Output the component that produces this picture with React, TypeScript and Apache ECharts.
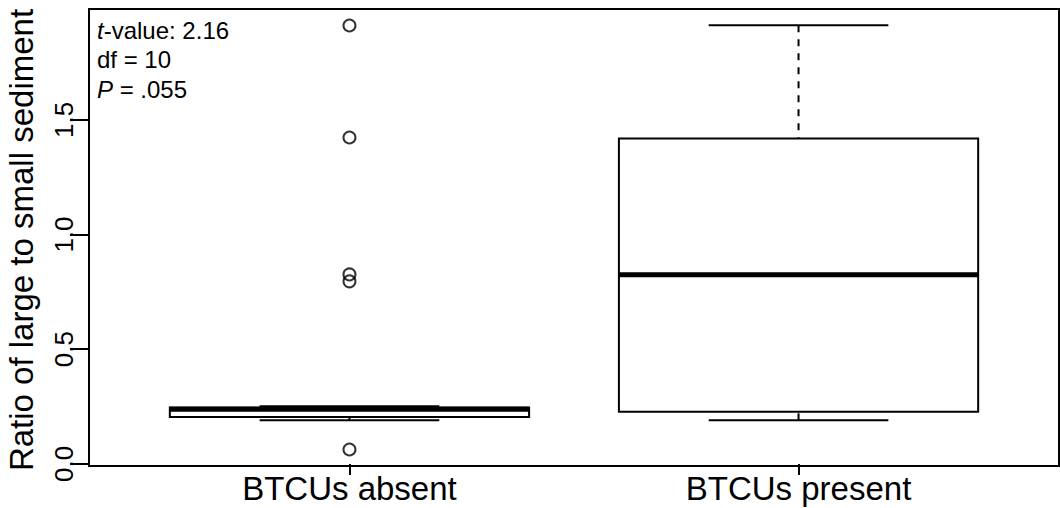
import React, { useEffect, useRef } from "react";
import * as echarts from "echarts";

const categories = ["BTCUs absent", "BTCUs present"];
const categoryX = [1, 2];
const lowerWhisker = [0.19, 0.19];
const quartile1 = [0.205, 0.228];
const medians = [0.238, 0.825];
const quartile3 = [0.246, 1.418];
const upperWhisker = [0.251, 1.912];
const outliersAbsent = [1.911, 1.423, 0.826, 0.796, 0.063];
const yTicks = [0, 0.5, 1.0, 1.5];
const statLines = ["t-value: 2.16", "df = 10", "P = .055"];

const FONT = '"Liberation Sans", Arial, Helvetica, sans-serif';

export default function App() {
  const ref = useRef<HTMLDivElement>(null);
  useEffect(() => {
    if (!ref.current) return;
    const chart = echarts.init(ref.current, null, { renderer: "svg" });
    const boxData = categoryX.map((x, i) => [
      x,
      lowerWhisker[i],
      quartile1[i],
      medians[i],
      quartile3[i],
      upperWhisker[i],
    ]);
    const option: any = {
      animation: false,
      textStyle: { fontFamily: FONT },
      grid: {
        left: 89,
        top: 9,
        width: 970,
        height: 457,
        show: true,
        borderColor: "#000",
        borderWidth: 2,
        backgroundColor: "transparent",
      },
      xAxis: {
        type: "value",
        min: 0.42,
        max: 2.58,
        axisLine: { show: false },
        splitLine: { show: false },
        axisTick: {
          show: true,
          customValues: categoryX,
          length: 11,
          lineStyle: { color: "#000", width: 2 },
        },
        axisLabel: {
          customValues: categoryX,
          formatter: (v: number) => categories[Math.round(v) - 1] ?? "",
          fontSize: 33,
          lineHeight: 28,
          color: "#000",
          margin: 8,
          fontFamily: FONT,
        },
      },
      yAxis: {
        type: "value",
        min: -0.009,
        max: 1.983,
        axisLine: { show: false },
        splitLine: { show: false },
        axisTick: {
          show: true,
          customValues: yTicks,
          length: 19,
          lineStyle: { color: "#000", width: 2 },
        },
        axisLabel: {
          customValues: yTicks,
          formatter: (v: number) => v.toFixed(1),
          rotate: 90,
          fontSize: 26,
          color: "#000",
          margin: 12,
          fontFamily: FONT,
        },
      },
      graphic: [
        {
          type: "text",
          x: 21,
          y: 240,
          rotation: Math.PI / 2,
          silent: true,
          style: {
            text: "Ratio of large to small sediment",
            fontSize: 33,
            fontFamily: FONT,
            fill: "#000",
            align: "center",
            verticalAlign: "middle",
          },
        },
        {
          type: "text",
          x: 97,
          y: 30,
          silent: true,
          style: {
            text: "{i|t}-value: 2.16",
            rich: { i: { fontStyle: "italic", fontSize: 24, fontFamily: FONT, fill: "#000" } },
            fontSize: 24,
            fontFamily: FONT,
            fill: "#000",
            align: "left",
            verticalAlign: "middle",
          },
        },
        {
          type: "text",
          x: 97,
          y: 59.5,
          silent: true,
          style: {
            text: statLines[1],
            fontSize: 24,
            fontFamily: FONT,
            fill: "#000",
            align: "left",
            verticalAlign: "middle",
          },
        },
        {
          type: "text",
          x: 97,
          y: 89,
          silent: true,
          style: {
            text: "{i|P} = .055",
            rich: { i: { fontStyle: "italic", fontSize: 24, fontFamily: FONT, fill: "#000" } },
            fontSize: 24,
            fontFamily: FONT,
            fill: "#000",
            align: "left",
            verticalAlign: "middle",
          },
        },
      ],
      series: [
        {
          type: "custom",
          silent: true,
          encode: { x: 0, y: [1, 2, 3, 4, 5] },
          data: boxData,
          renderItem: (params: any, api: any) => {
            const x = api.value(0);
            const lw = api.value(1);
            const q1 = api.value(2);
            const md = api.value(3);
            const q3 = api.value(4);
            const hw = api.value(5);
            const half = 0.4;
            const cap = 0.2;
            const [xl, yq3] = api.coord([x - half, q3]);
            const [xr, yq1] = api.coord([x + half, q1]);
            const [xc, ymd] = api.coord([x, md]);
            const yhw = api.coord([x, hw])[1];
            const ylw = api.coord([x, lw])[1];
            const cl = api.coord([x - cap, 0])[0];
            const cr = api.coord([x + cap, 0])[0];
            const stroke = { stroke: "#000", lineWidth: 2, fill: "none" };
            const dashed = { stroke: "#000", lineWidth: 2, lineDash: [7, 7] };
            return {
              type: "group",
              children: [
                { type: "line", shape: { x1: xc, y1: yhw, x2: xc, y2: yq3 }, style: dashed },
                { type: "line", shape: { x1: xc, y1: ylw, x2: xc, y2: yq1 }, style: dashed },
                { type: "line", shape: { x1: cl, y1: yhw, x2: cr, y2: yhw }, style: stroke },
                { type: "line", shape: { x1: cl, y1: ylw, x2: cr, y2: ylw }, style: stroke },
                {
                  type: "rect",
                  shape: { x: xl, y: yq3, width: xr - xl, height: yq1 - yq3 },
                  style: { fill: "#fff", stroke: "#000", lineWidth: 2 },
                },
                {
                  type: "line",
                  shape: { x1: xl, y1: ymd, x2: xr, y2: ymd },
                  style: { stroke: "#000", lineWidth: 5 },
                },
              ],
            };
          },
        },
        {
          type: "scatter",
          silent: true,
          symbol: "circle",
          symbolSize: 12,
          data: outliersAbsent.map((v) => [categoryX[0], v]),
          itemStyle: { color: "rgba(0,0,0,0)", borderColor: "#000", borderWidth: 2 },
          z: 5,
        },
      ],
    };
    chart.setOption(option);
    return () => chart.dispose();
  }, []);
  return (
    <div
      ref={ref}
      style={{ position: "absolute", left: 0, top: 0, width: 1060, height: 508 }}
    />
  );
}
